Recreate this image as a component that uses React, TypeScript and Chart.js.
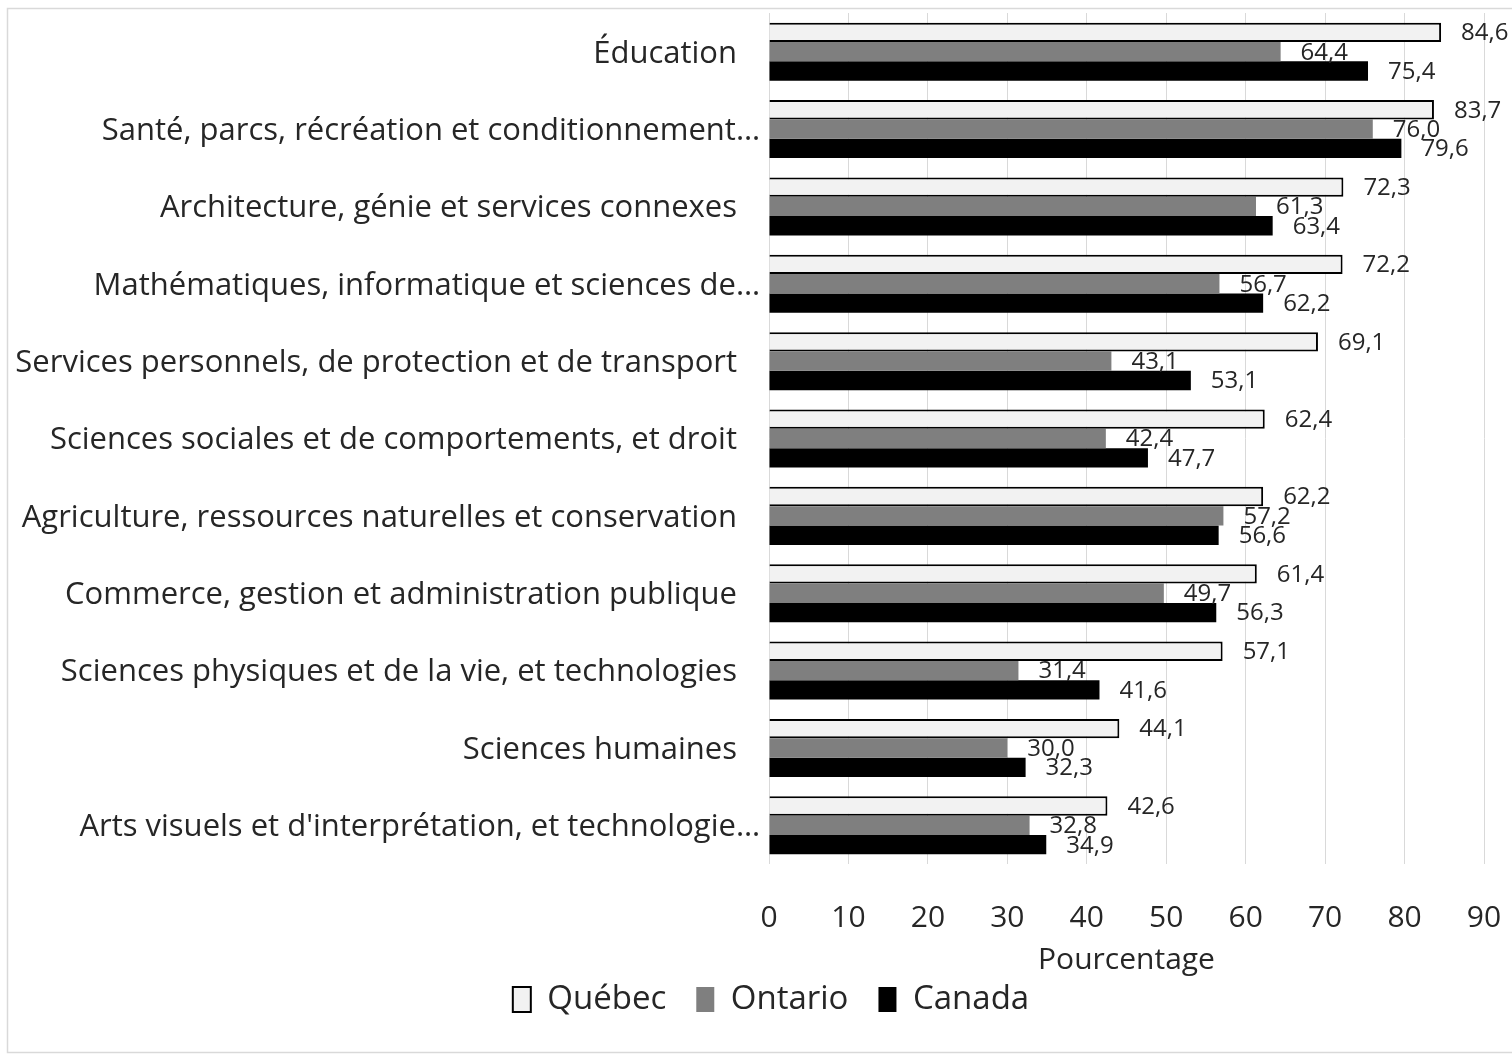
import React, { useEffect, useRef } from "react";
import { Chart, registerables } from "chart.js";

Chart.register(...registerables);

const categories = [
  "Éducation",
  "Santé, parcs, récréation et conditionnement…",
  "Architecture, génie et services connexes",
  "Mathématiques, informatique et sciences de…",
  "Services personnels, de protection et de transport",
  "Sciences sociales et de comportements, et droit",
  "Agriculture, ressources naturelles et conservation",
  "Commerce, gestion et administration publique",
  "Sciences physiques et de la vie, et technologies",
  "Sciences humaines",
  "Arts visuels et d'interprétation, et technologie…",
];

const quebec = [84.6, 83.7, 72.3, 72.2, 69.1, 62.4, 62.2, 61.4, 57.1, 44.1, 42.6];
const ontario = [64.4, 76.0, 61.3, 56.7, 43.1, 42.4, 57.2, 49.7, 31.4, 30.0, 32.8];
const canada = [75.4, 79.6, 63.4, 62.2, 53.1, 47.7, 56.6, 56.3, 41.6, 32.3, 34.9];

const seriesNames = ["Québec", "Ontario", "Canada"];
const xTitle = "Pourcentage";

const FONT = "'Open Sans', 'Noto Sans', sans-serif";
const TEXT = "#262626";

const fmt = (v: number) => v.toFixed(1).replace(".", ",");

const framePlugin = {
  id: "frame",
  beforeDraw(chart: any) {
    const ctx = chart.ctx;
    ctx.save();
    ctx.fillStyle = "#ffffff";
    ctx.fillRect(0, 0, chart.width, chart.height);
    ctx.strokeStyle = "#d9d9d9";
    ctx.lineWidth = 1.5;
    ctx.strokeRect(7.5, 8.5, chart.width + 20, 1044);
    ctx.restore();
  },
};

const yLabelPlugin = {
  id: "yLabels",
  afterDraw(chart: any) {
    const ctx = chart.ctx;
    const yScale = chart.scales.y;
    const left = chart.chartArea.left;
    ctx.save();
    ctx.font = `31px ${FONT}`;
    ctx.fillStyle = TEXT;
    ctx.textAlign = "right";
    ctx.textBaseline = "middle";
    (chart.data.labels as string[]).forEach((lab, i) => {
      const y = yScale.getPixelForValue(i) + 2;
      const off = lab.endsWith("…") ? 9 : 32;
      ctx.fillText(lab, left - off, y);
    });
    ctx.restore();
  },
};

const valueLabelPlugin = {
  id: "valueLabels",
  afterDatasetsDraw(chart: any) {
    const ctx = chart.ctx;
    ctx.save();
    ctx.font = `24px ${FONT}`;
    ctx.fillStyle = TEXT;
    ctx.textAlign = "left";
    ctx.textBaseline = "middle";
    chart.data.datasets.forEach((ds: any, di: number) => {
      const meta = chart.getDatasetMeta(di);
      meta.data.forEach((bar: any, j: number) => {
        ctx.fillText(fmt(ds.data[j]), bar.x + 20, bar.y + 1);
      });
    });
    ctx.restore();
  },
};

export default function App() {
  const ref = useRef<HTMLCanvasElement | null>(null);

  useEffect(() => {
    if (!ref.current) return;
    const chart = new Chart(ref.current, {
      type: "bar",
      data: {
        labels: categories,
        datasets: [
          {
            label: seriesNames[0],
            data: quebec,
            backgroundColor: "#f2f2f2",
            borderColor: "#000000",
            borderWidth: 2,
          },
          {
            label: seriesNames[1],
            data: ontario,
            backgroundColor: "#7f7f7f",
            borderColor: "#7f7f7f",
            borderWidth: 0,
          },
          {
            label: seriesNames[2],
            data: canada,
            backgroundColor: "#000000",
            borderColor: "#000000",
            borderWidth: 0,
          },
        ],
      },
      options: {
        indexAxis: "y",
        responsive: false,
        animation: false,
        devicePixelRatio: 1,
        layout: { padding: { left: 58, right: 28, top: 13, bottom: 31 } },
        datasets: {
          bar: { categoryPercentage: 0.75, barPercentage: 1.0 },
        },
        scales: {
          x: {
            min: 0,
            max: 90,
            ticks: {
              stepSize: 10,
              font: { family: FONT, size: 30 },
              color: TEXT,
              padding: 0,
            },
            grid: {
              color: "#d9d9d9",
              lineWidth: 1,
              drawTicks: true,
              tickLength: 36,
              tickColor: "rgba(0,0,0,0)",
            },
            border: { display: false },
            title: {
              display: true,
              text: xTitle,
              font: { family: FONT, size: 30 },
              color: TEXT,
              padding: { top: 0, bottom: -25 },
            },
            afterFit: (s: any) => {
              s.height = 89;
            },
          },
          y: {
            ticks: { display: false },
            grid: { display: false },
            border: { display: false },
            afterFit: (s: any) => {
              s.width = 711;
            },
          },
        },
        plugins: {
          legend: {
            position: "bottom",
            labels: {
              boxWidth: 18,
              boxHeight: 25,
              padding: 30,
              color: TEXT,
              font: { family: FONT, size: 33 },
            },
          },
          tooltip: { enabled: false },
        },
      },
      plugins: [framePlugin, yLabelPlugin, valueLabelPlugin],
    } as any);
    return () => chart.destroy();
  }, []);

  return (
    <div style={{ position: "absolute", left: 0, top: 0, width: 1512, height: 1057, overflow: "hidden", background: "#fff" }}>
      <canvas ref={ref} width={1512} height={1057} style={{ display: "block", width: 1512, height: 1057 }} />
    </div>
  );
}
